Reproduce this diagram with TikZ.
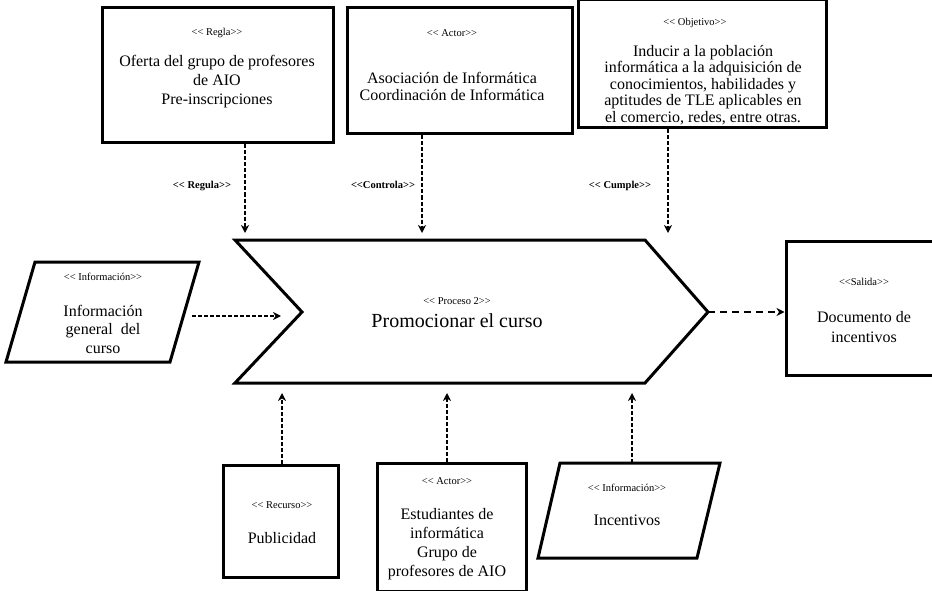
\documentclass[tikz,border=0pt]{standalone}
\usepackage{fontspec}
\setmainfont{Liberation Serif}[Ligatures=TeXOff]
\usetikzlibrary{arrows.meta}
\begin{document}
\begin{tikzpicture}[x=1pt,y=-1pt,
  frame/.style={draw=black,line width=3pt,fill=white,inner sep=0pt},
  shapeline/.style={draw=black,line width=3pt,line join=miter,fill=white},
  flow/.style={draw=black,line width=2pt,dash pattern=on 4pt off 2pt,
    -{Stealth[length=8pt,width=8pt,inset=2.5pt]}},
  outflow/.style={draw=black,line width=2.2pt,dash pattern=on 7pt off 5pt,
    -{Stealth[length=8pt,width=8pt,inset=2.5pt]}},
  stereo/.style={font=\fontsize{10.5}{12}\selectfont,inner sep=0pt},
  body/.style={font=\fontsize{16}{19}\selectfont,align=center,inner sep=0pt},
  tag/.style={font=\bfseries\fontsize{10.5}{12}\selectfont,inner sep=0pt}]
\useasboundingbox (0,0) rectangle (932,591);

% ---------- top row: rule, actor, objective ----------
\node[frame,minimum width=231pt,minimum height=135pt] (regla) at (217.5,75.5) {};
\node[stereo] (reglaS) at (217,33) {<< Regla>>};
\node[body] (reglaB) at (217,82) {Oferta del grupo de profesores\\de AIO\\Pre-inscripciones};

\node[frame,minimum width=225pt,minimum height=126pt] (actorT) at (459.5,71) {};
\node[stereo] (actorTS) at (452,33) {<< Actor>>};
\node[body,font=\fontsize{16}{17}\selectfont] (actorTB) at (452,86) {Asociación de Informática\\Coordinación de Informática};

\node[frame,minimum width=248pt,minimum height=128pt] (objetivo) at (702,64) {};
\node[stereo] (objetivoS) at (695,23) {<< Objetivo>>};
\node[body,font=\fontsize{16}{16.5}\selectfont] (objetivoB) at (703,85) {Inducir a la población\\informática a la adquisición de\\conocimientos, habilidades y\\aptitudes de TLE aplicables en\\el comercio, redes, entre otras.};

% ---------- central process chevron ----------
\coordinate (pA) at (235,240);
\coordinate (pB) at (645,240);
\coordinate (pTip) at (708,312);
\coordinate (pC) at (645,383);
\coordinate (pD) at (235,383);
\coordinate (pNotch) at (302,312);
\draw[shapeline] (pA) -- (pB) -- (pTip) -- (pC) -- (pD) -- (pNotch) -- cycle;
\node[stereo] (procS) at (457,301) {<< Proceso 2>>};
\node[font=\fontsize{20}{22}\selectfont,inner sep=0pt] (procB) at (457,321) {Promocionar el curso};

% arrow targets on the process
\coordinate (inT1) at (245,233);
\coordinate (inT2) at (422,233);
\coordinate (inT3) at (668,233);
\coordinate (inB1) at (282,393);
\coordinate (inB2) at (447,393);
\coordinate (inB3) at (632,393);
\coordinate (inL) at (281,316);

% ---------- left input ----------
\coordinate (iA) at (35,262);
\coordinate (iB) at (199,262);
\coordinate (iC) at (170,362);
\coordinate (iD) at (6,362);
\draw[shapeline] (iA) -- (iB) -- (iC) -- (iD) -- cycle;
\coordinate (infoOut) at (192,316);
\node[stereo] (infoS) at (103,277) {<< Información>>};
\node[body,font=\fontsize{16}{18.5}\selectfont] (infoB) at (103,329) {Información\\general\ \ del\\curso};

% ---------- output ----------
\node[frame,minimum width=156pt,minimum height=134pt] (salida) at (864,308) {};
\node[stereo] (salidaS) at (864,282) {<<Salida>>};
\node[body,font=\fontsize{16}{20}\selectfont] (salidaB) at (864,327) {Documento de\\incentivos};

% ---------- bottom row ----------
\node[frame,minimum width=115pt,minimum height=112pt] (recurso) at (280.5,521) {};
\node[stereo] (recursoS) at (282,505) {<< Recurso>>};
\node[body] (recursoB) at (282,538) {Publicidad};

\node[frame,minimum width=149pt,minimum height=128pt] (actorB) at (451.5,527) {};
\node[stereo] (actorBS) at (447,481) {<< Actor>>};
\node[body] (actorBB) at (447,544) {Estudiantes de\\informática\\Grupo de\\profesores de AIO};

\coordinate (nA) at (560,463);
\coordinate (nB) at (720,463);
\coordinate (nC) at (697,558);
\coordinate (nD) at (538,558);
\draw[shapeline] (nA) -- (nB) -- (nC) -- (nD) -- cycle;
\node[stereo] (incS) at (627,488) {<< Información>>};
\node[body] (incB) at (627,520) {Incentivos};

% ---------- connectors ----------
\draw[flow] (regla.south -| inT1) -- (inT1);
\draw[flow] (actorT.south -| inT2) -- (inT2);
\draw[flow] (objetivo.south -| inT3) -- (inT3);
\node[tag] (lblRegula) at (202,186) {<< Regula>>};
\node[tag] (lblControla) at (383,185) {<<Controla>>};
\node[tag] (lblCumple) at (620,186) {<< Cumple>>};

\draw[flow] (infoOut) -- (inL);
\draw[flow] (recurso.north -| inB1) -- (inB1);
\draw[flow] (actorB.north -| inB2) -- (inB2);
\draw[flow] (nA -| inB3) -- (inB3);
\draw[outflow] (pTip) -- (salida.west |- pTip);
\end{tikzpicture}
\end{document}
